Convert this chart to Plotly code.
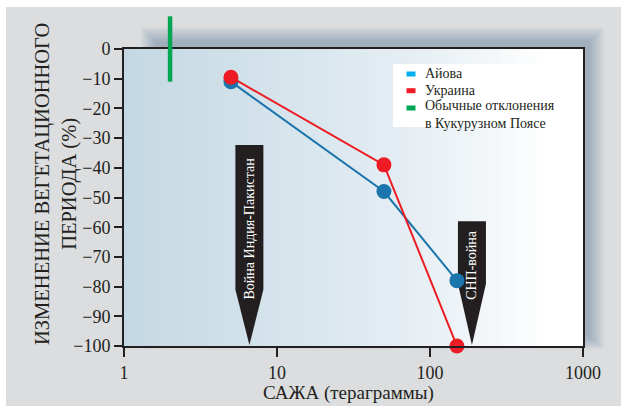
import math
import plotly.graph_objects as go

# ---- data ----
soot = [5, 50, 150]
iowa = [-11, -48, -78]
ukraine = [-9.5, -39, -100]
legend_labels = ["Айова", "Украина", "Обычные отклонения<br>в Кукурузном Поясе"]
normal_dev_x = 2
normal_dev_range = [11, -11]
events = ["Война Индия-Пакистан", "СНП-война"]
event_soot = [6.6, 188]
event_top = [-32.3, -58]
event_taper = [-81, -79]
event_text_y = [-60.3, -72.7]
x_tickvals = [1, 10, 100, 1000]
x_ticktext = ["1", "10", "100", "1000"]
y_tickvals = list(range(-100, 1, 10))

W, H = 621, 406
L, R, T, B = 124, 38, 49, 60
PW, PH = W - L - R, H - T - B
XR = [0, 3]
YR = [-100, 0]

def xp(v):
    return (math.log10(v) - XR[0]) / (XR[1] - XR[0])

def yp(v):
    return (v - YR[0]) / (YR[1] - YR[0])

def px2x(px):
    return (px - L) / PW

def py2y(py):
    return (H - B - py) / PH

FONT = "Liberation Serif, Times New Roman, serif"
INK = "#231f20"
BLUE = "#1b75ac"
RED = "#ed1c24"
GREEN = "#00a651"
LEG_BLUE = "#00aeef"

fig = go.Figure()
fig.add_trace(go.Scatter(x=soot, y=iowa, mode="lines+markers", name="Айова",
                         line=dict(color=BLUE, width=2), marker=dict(color=BLUE, size=15),
                         cliponaxis=False))
fig.add_trace(go.Scatter(x=soot, y=ukraine, mode="lines+markers", name="Украина",
                         line=dict(color=RED, width=2), marker=dict(color=RED, size=15),
                         cliponaxis=False))

shapes = []
annotations = []
# page gray
shapes.append(dict(type="rect", xref="paper", yref="paper", layer="below",
                   x0=px2x(6), x1=px2x(W + 5), y0=py2y(7), y1=py2y(H + 5),
                   fillcolor="#dcdddf", line=dict(width=0)))
# shadow
for k in range(8):
    e = k * 2
    shapes.append(dict(type="rect", xref="paper", yref="paper", layer="below",
                       x0=px2x(155 - e), x1=px2x(590 + e), y0=py2y(338 + e * 0.8), y1=py2y(41 - e),
                       fillcolor="rgba(60,100,130,0.05)", line=dict(width=0)))
# gradient plot background
stops = [(0.0, (196, 216, 227)), (0.35, (214, 228, 236)), (0.6, (228, 237, 243)),
         (0.82, (245, 248, 250)), (0.92, (255, 255, 255)), (1.0, (255, 255, 255))]

def grad(t):
    for (t0, c0), (t1, c1) in zip(stops[:-1], stops[1:]):
        if t0 <= t <= t1:
            f = (t - t0) / (t1 - t0) if t1 > t0 else 0
            return tuple(round(a + (b - a) * f) for a, b in zip(c0, c1))
    return stops[-1][1]

N = 60
for i in range(N):
    c = grad((i + 0.5) / N)
    shapes.append(dict(type="rect", xref="paper", yref="paper", layer="below",
                       x0=i / N, x1=(i + 1) / N + 0.002, y0=0, y1=1,
                       fillcolor="rgb(%d,%d,%d)" % c, line=dict(width=0)))

# event arrows
for name, sx, top, taper, ty in zip(events, event_soot, event_top, event_taper, event_text_y):
    cx = xp(sx)
    hw = 14 / PW
    path = "M %f,%f L %f,%f L %f,%f L %f,%f L %f,%f Z" % (
        cx - hw, yp(top), cx + hw, yp(top), cx + hw, yp(taper), cx, yp(-99.7), cx - hw, yp(taper))
    shapes.append(dict(type="path", xref="paper", yref="paper", layer="below", path=path,
                       fillcolor="#231f20", line=dict(width=0)))
    annotations.append(dict(xref="paper", yref="paper", x=cx, y=yp(ty), text=name,
                            textangle=-90, showarrow=False, xanchor="center", yanchor="middle",
                            font=dict(family=FONT, size=14, color="white")))

# normal deviation line
shapes.append(dict(type="line", xref="paper", yref="paper", layer="above",
                   x0=xp(normal_dev_x), x1=xp(normal_dev_x),
                   y0=yp(normal_dev_range[0]), y1=yp(normal_dev_range[1]),
                   line=dict(color=GREEN, width=4.5)))

# manual legend
shapes.append(dict(type="rect", xref="paper", yref="paper", layer="below",
                   x0=px2x(393), x1=px2x(562), y0=py2y(127), y1=py2y(64),
                   fillcolor="white", line=dict(width=0)))
leg_colors = [LEG_BLUE, RED, GREEN]
leg_rows = [74, 90.7, 108]
leg_text_y = [74, 90.7, 114]
for lab, col, ry, ty in zip(legend_labels, leg_colors, leg_rows, leg_text_y):
    shapes.append(dict(type="rect", xref="paper", yref="paper", layer="above",
                       x0=px2x(406.5), x1=px2x(415.5), y0=py2y(ry + 2.5), y1=py2y(ry - 2.5),
                       fillcolor=col, line=dict(width=0)))
    annotations.append(dict(xref="paper", yref="paper", x=px2x(422.5), y=py2y(ty), text=lab,
                            showarrow=False, xanchor="left", yanchor="middle", align="left",
                            font=dict(family=FONT, size=14, color=INK)))

# axis titles
annotations.append(dict(xref="paper", yref="paper", x=px2x(56), y=py2y(184),
                        text="ИЗМЕНЕНИЕ ВЕГЕТАЦИОННОГО<br>ПЕРИОДА (%)", textangle=-90,
                        showarrow=False, xanchor="center", yanchor="middle",
                        font=dict(family=FONT, size=20.5, color=INK)))
annotations.append(dict(xref="paper", yref="paper", x=px2x(348), y=py2y(393),
                        text="САЖА (тераграммы)", showarrow=False,
                        xanchor="center", yanchor="middle",
                        font=dict(family=FONT, size=19, color=INK)))

fig.update_layout(
    width=W, height=H, margin=dict(l=L, r=R, t=T, b=B),
    paper_bgcolor="white", plot_bgcolor="rgba(0,0,0,0)",
    showlegend=False, shapes=shapes, annotations=annotations,
    font=dict(family=FONT, size=18, color=INK),
)
fig.update_xaxes(type="log", range=XR, tickvals=x_tickvals, ticktext=x_ticktext,
                 showgrid=False, zeroline=False, showline=True, linecolor=INK, linewidth=2,
                 mirror=True, ticks="outside", ticklen=9, tickwidth=2, tickcolor=INK,
                 tickfont=dict(family=FONT, size=18, color=INK))
fig.update_yaxes(range=YR, tickvals=y_tickvals, showgrid=False, zeroline=False,
                 showline=True, linecolor=INK, linewidth=2, mirror=True,
                 ticks="outside", ticklen=8, tickwidth=2, tickcolor=INK,
                 tickfont=dict(family=FONT, size=18, color=INK))

fig.write_html("out.html", config={"displayModeBar": False},
               post_script="document.body.style.margin='0';document.body.style.overflow='hidden';")
